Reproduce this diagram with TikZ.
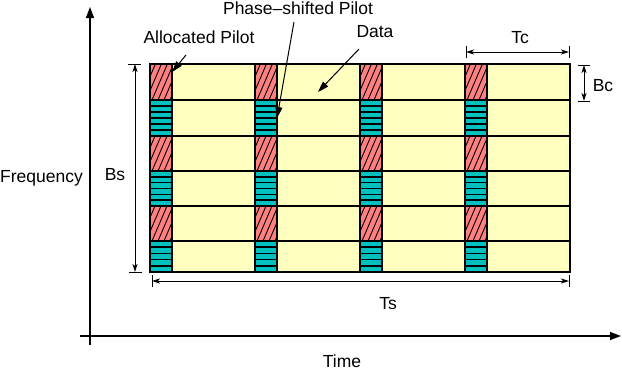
\documentclass[tikz,border=0pt]{standalone}
\usepackage{fontspec}
\setmainfont{Liberation Sans}
\usetikzlibrary{arrows.meta}
\definecolor{pilotred}{HTML}{FF8080}
\definecolor{pilotcyan}{HTML}{00C0C0}
\definecolor{datay}{HTML}{FFFFC0}
\begin{document}
\begin{tikzpicture}[x=1pt,y=-1pt,
  lbl/.style={font=\fontsize{17.5}{20}\selectfont, inner sep=0pt, anchor=base},
  cellb/.style={draw=black, line width=1.3pt},
  ax/.style={line width=1.2pt, -{Triangle[length=11pt,width=8pt]}},
  dimarrow/.style={line width=0.9pt, {Stealth[length=8pt,width=5pt,inset=2pt]}-{Stealth[length=8pt,width=5pt,inset=2pt]}},
  dimtick/.style={line width=0.9pt},
  callout/.style={line width=1pt, -{Triangle[length=11pt,width=7pt]}},
  hatchline/.style={line width=0.9pt},
  stripeline/.style={line width=1.6pt}
]
\useasboundingbox (0,0) rectangle (622,370);

% grid
\foreach \ya/\yb/\k in {64/100/1,100/136/2,136/171/3,171/206/4,206/241/5,241/272/6}{
  \foreach \xa/\xb/\xc in {150/172/255,255/277/360,360/382/465,465/487/570}{
    \draw[cellb, fill=datay] (\xb,\ya) rectangle (\xc,\yb);
    \ifodd\k
      \begin{scope}
        \clip (\xa,\ya) rectangle (\xb,\yb);
        \fill[pilotred] (\xa,\ya) rectangle (\xb,\yb);
        \foreach \i in {-16,-10,...,26}
          \draw[hatchline] (\xa+\i,\yb) -- ++(15,-35);
      \end{scope}
    \else
      \fill[pilotcyan] (\xa,\ya) rectangle (\xb,\yb);
      \pgfmathsetmacro\hh{\yb-\ya}
      \pgfmathtruncatemacro\nn{round(\hh/5.9)}
      \pgfmathtruncatemacro\nm{\nn-1}
      \foreach \j in {1,...,\nm}
        \draw[stripeline] (\xa,{\ya+\j*\hh/\nn}) -- (\xb,{\ya+\j*\hh/\nn});
    \fi
    \draw[cellb] (\xa,\ya) rectangle (\xb,\yb);
  }
}

% axes
\coordinate (yaxb) at (90,345);
\coordinate (yaxt) at (90,7);
\coordinate (xaxl) at (80,336);
\coordinate (xaxr) at (621,336);
\draw[ax] (yaxb) -- (yaxt);
\draw[ax] (xaxl) -- (xaxr);

% Bs
\coordinate (bst) at (135,64);
\coordinate (bsb) at (135,272);
\draw[dimarrow] (bst) -- (bsb);
\draw[dimtick] ([xshift=-7pt]bst) -- ([xshift=6pt]bst);
\draw[dimtick] ([xshift=-6pt]bsb) -- ([xshift=7pt]bsb);

% Ts
\coordinate (tsl) at (152,281);
\coordinate (tsr) at (569,281);
\draw[dimarrow] (tsl) -- (tsr);
\draw[dimtick] ([yshift=6pt]tsl) -- ([yshift=-6pt]tsl);
\draw[dimtick] ([yshift=6pt]tsr) -- ([yshift=-6pt]tsr);

% Tc
\coordinate (tcl) at (466,52);
\coordinate (tcr) at (569,52);
\draw[dimarrow] (tcl) -- (tcr);
\draw[dimtick] ([yshift=6pt]tcl) -- ([yshift=-6pt]tcl);
\draw[dimtick] ([yshift=6pt]tcr) -- ([yshift=-6pt]tcr);

% Bc
\coordinate (bct) at (584,65);
\coordinate (bcb) at (584,101);
\draw[dimarrow] (bct) -- (bcb);
\draw[dimtick] ([xshift=-6pt]bct) -- ([xshift=6pt]bct);
\draw[dimtick] ([xshift=-6pt]bcb) -- ([xshift=6pt]bcb);

% labels
\node[lbl] (lalloc) at (199,43) {Allocated Pilot};
\node[lbl] (lphase) at (298,14) {Phase–shifted Pilot};
\node[lbl] (ldata) at (375,37) {Data};
\node[lbl] (ltc) at (520,43) {Tc};
\node[lbl] (lbc) at (603,91) {Bc};
\node[lbl] (lbs) at (115,180) {Bs};
\node[lbl, anchor=base east] (lfreq) at (83,182) {Frequency};
\node[lbl] (lts) at (388,309) {Ts};
\node[lbl] (ltime) at (342,367) {Time};

% callouts
\coordinate (allocfrom) at (186,55);
\coordinate (allocto) at (172,72);
\coordinate (phasefrom) at (294,22);
\coordinate (phaseto) at (277,118);
\coordinate (datafrom) at (359,49);
\coordinate (datato) at (318,92);
\draw[callout] (allocfrom) -- (allocto);
\draw[callout] (phasefrom) -- (phaseto);
\draw[callout] (datafrom) -- (datato);
\end{tikzpicture}
\end{document}
